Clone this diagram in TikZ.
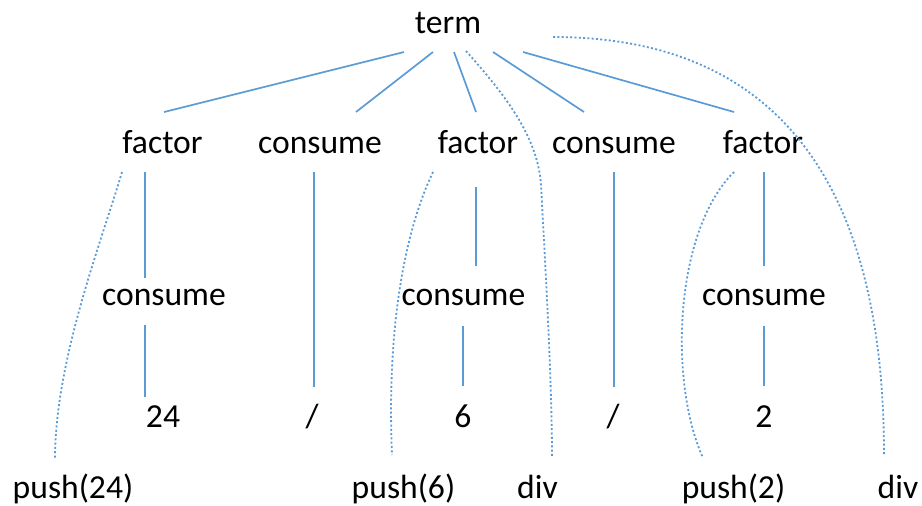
\documentclass[tikz,border=0pt]{standalone}
\usepackage{fontspec}
\setmainfont{Carlito}
\usetikzlibrary{calc}
\definecolor{edgeblue}{RGB}{91,155,213}
\begin{document}
\begin{tikzpicture}[x=1pt,y=-1pt,
  lbl/.style={anchor=base,inner sep=0pt,font=\fontsize{33.6}{40}\selectfont},
  treeedge/.style={draw=edgeblue,line width=1.7pt},
  flowedge/.style={draw=edgeblue,line width=1.8pt,dash pattern=on 2pt off 2.3pt}]
\useasboundingbox (0,0) rectangle (922,506);
% grammar nodes
\node[lbl] (term) at (448,33) {term};
\node[lbl] (f1) at (162.5,153) {factor};
\node[lbl] (c1) at (320,153) {consume};
\node[lbl] (f2) at (478,153) {factor};
\node[lbl] (c2) at (614,153) {consume};
\node[lbl] (f3) at (763,153) {factor};
\node[lbl] (ca) at (164,305) {consume};
\node[lbl] (cb) at (463.5,305) {consume};
\node[lbl] (cc) at (764,305) {consume};
% tokens
\node[lbl] (n24) at (163,427) {24};
\node[lbl] (s1) at (312,427) {/};
\node[lbl] (n6) at (463,427) {6};
\node[lbl] (s2) at (613,427) {/};
\node[lbl] (n2) at (764,427) {2};
% emitted code
\node[lbl] (p24) at (73,498) {push(24)};
\node[lbl] (p6) at (403.5,498) {push(6)};
\node[lbl] (d1) at (537.5,498) {div};
\node[lbl] (p2) at (733.5,498) {push(2)};
\node[lbl] (d2) at (898,498) {div};
% parse tree edges
\draw[treeedge] ([shift={(-44,19)}]term.base) -- ([shift={(1.5,-41)}]f1.base);
\draw[treeedge] ([shift={(-15,19)}]term.base) -- ([shift={(36,-41)}]c1.base);
\draw[treeedge] ([shift={(6,19)}]term.base) -- ([shift={(-2,-41)}]f2.base);
\draw[treeedge] ([shift={(45,19)}]term.base) -- ([shift={(-30,-41)}]c2.base);
\draw[treeedge] ([shift={(75,19)}]term.base) -- ([shift={(-29,-41)}]f3.base);
\draw[treeedge] ([shift={(-17.5,19)}]f1.base) -- ([shift={(-19,-27)}]ca.base);
\draw[treeedge] ([shift={(-19,20)}]ca.base) -- ([shift={(-18,-30)}]n24.base);
\draw[treeedge] ([shift={(-6,19)}]c1.base) -- ([shift={(2,-40)}]s1.base);
\draw[treeedge] ([shift={(-2,34)}]f2.base) -- ([shift={(12.5,-39)}]cb.base);
\draw[treeedge] ([shift={(-0.5,21)}]cb.base) -- ([shift={(0,-41)}]n6.base);
\draw[treeedge] ([shift={(0,19)}]c2.base) -- ([shift={(1,-40)}]s2.base);
\draw[treeedge] ([shift={(1,19)}]f3.base) -- ([shift={(0,-39)}]cc.base);
\draw[treeedge] ([shift={(0,21)}]cc.base) -- ([shift={(0,-41)}]n2.base);
% code emission links
\draw[flowedge] ([shift={(-40.5,19)}]f1.base)
  .. controls ++(-20,68) and ++(0,-99) .. ([shift={(-18,-39)}]p24.base);
\draw[flowedge] ([shift={(-45,19)}]f2.base)
  .. controls ++(-23,48) and ++(-6,-145) .. ([shift={(-11.5,-43)}]p6.base);
\draw[flowedge] ([shift={(-29,19)}]f3.base)
  .. controls ++(-59,58) and ++(-35,-78) .. ([shift={(-30.5,-40)}]p2.base);
\draw[flowedge] ([shift={(18,18)}]term.base)
  .. controls ++(44,49) and ++(-3,-45) .. ++(75,134)
  .. controls ++(4,75) and ++(0,-78) .. ([shift={(14.5,-40)}]d1.base);
\draw[flowedge] ([shift={(105,4)}]term.base)
  .. controls ++(197,0) and ++(0,-305) .. ([shift={(-14,-43)}]d2.base);
\end{tikzpicture}
\end{document}
